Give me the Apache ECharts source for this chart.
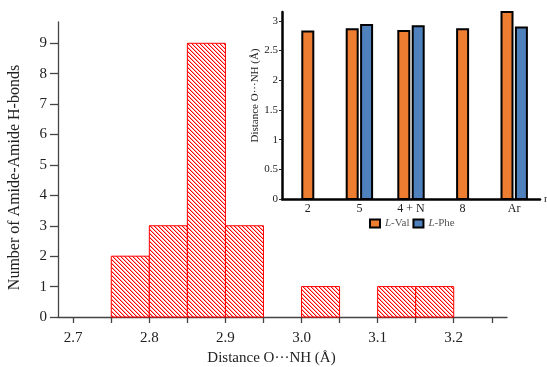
<!DOCTYPE html>
<html>
<head>
<meta charset="utf-8">
<script src="https://cdn.jsdelivr.net/npm/echarts@6/dist/echarts.min.js"></script>
<style>
  html, body { margin: 0; padding: 0; background: #fff; }
  #chart { width: 547px; height: 367px; }
</style>
</head>
<body>
<div id="chart"></div>
<script>
// Histogram of amide-amide hydrogen-bond distances (bins in Å)
const binStarts = [2.75, 2.80, 2.85, 2.90, 3.00, 3.10, 3.15];
const binEnds   = [2.80, 2.85, 2.90, 2.95, 3.05, 3.15, 3.20];
const binCounts = [2, 3, 9, 3, 1, 1, 1];
const histXTicks  = [2.70, 2.75, 2.80, 2.85, 2.90, 2.95, 3.00, 3.05, 3.10, 3.15, 3.20, 3.25];
const histXLabels = [2.7, 2.8, 2.9, 3.0, 3.1, 3.2];
const histYLabels = [0, 1, 2, 3, 4, 5, 6, 7, 8, 9];

// Inset: O···NH distance per compound
const insetCategories = ['2', '5', '4 + N', '8', 'Ar'];
const valDistances = [2.82, 2.86, 2.83, 2.86, 3.15];
const pheDistances = [null, 2.93, 2.91, null, 2.89];
const insetYTicks = [0, 0.5, 1, 1.5, 2, 2.5, 3];

const SERIF = '"Liberation Serif", "Times New Roman", serif';

// diagonal red hatch used to fill the histogram bars
function makeHatch() {
  const c = document.createElement('canvas');
  c.width = 4; c.height = 4;
  const g = c.getContext('2d');
  g.fillStyle = '#ffffff';
  g.fillRect(0, 0, 4, 4);
  for (let i = 0; i < 4; i++) {
    g.fillStyle = '#ff0000';
    g.fillRect(i, i, 1, 1);
    g.fillStyle = 'rgba(255,0,0,0.35)';
    g.fillRect((i + 1) % 4, i, 1, 1);
  }
  return c;
}
const hatch = { image: makeHatch(), repeat: 'repeat' };

function insetSeries(name, values, other, side, color) {
  const data = [];
  values.forEach((v, i) => { if (v != null) data.push([i, v]); });
  return {
    type: 'custom',
    name: name,
    xAxisIndex: 1,
    yAxisIndex: 1,
    itemStyle: { color: color, borderColor: '#000', borderWidth: 1.5 },
    encode: { x: 0, y: 1 },
    data: data,
    renderItem(params, api) {
      const i = api.value(0);
      const v = api.value(1);
      const base = api.coord([i, 0]);
      const top = api.coord([i, v]);
      const w = 11;
      const paired = other[i] != null;
      const cx = paired ? base[0] + side * 7.2 : base[0];
      return {
        type: 'rect',
        shape: { x: cx - w / 2, y: top[1], width: w, height: base[1] - top[1] },
        style: { fill: color, stroke: '#000', lineWidth: 2 }
      };
    }
  };
}

const chart = echarts.init(document.getElementById('chart'), null, { renderer: 'canvas' });

chart.setOption({
  animation: false,
  backgroundColor: '#fff',
  textStyle: { fontFamily: SERIF },
  grid: [
    { left: 58, right: 40, top: 22, bottom: 50, outerBoundsMode: 'none' },
    { left: 282, right: 7, top: 12, bottom: 168, outerBoundsMode: 'none' }
  ],
  legend: {
    left: 369,
    top: 218,
    padding: 0,
    itemWidth: 10,
    itemHeight: 8,
    itemGap: 3,
    icon: 'rect',
    data: ['L-Val', 'L-Phe'],
    formatter: n => '{i|L}' + n.slice(1),
    textStyle: {
      fontFamily: SERIF, fontSize: 11, color: '#555',
      rich: { i: { fontFamily: SERIF, fontSize: 11, color: '#555', fontStyle: 'italic' } }
    }
  },
  xAxis: [
    {
      type: 'value', gridIndex: 0, min: 2.68, max: 3.27,
      axisLine: { show: true, lineStyle: { color: '#444', width: 1.3 } },
      axisTick: { show: true, customValues: histXTicks, length: 6, lineStyle: { color: '#444', width: 1.3 } },
      axisLabel: {
        customValues: histXLabels, formatter: v => v.toFixed(1),
        fontFamily: SERIF, fontSize: 15, color: '#222', margin: 14
      },
      splitLine: { show: false },
      name: 'Distance O···NH (Å)', nameLocation: 'middle', nameGap: 33,
      nameTextStyle: { fontFamily: SERIF, fontSize: 15, color: '#222', padding: [0, 22, 0, 0] }
    },
    {
      type: 'category', gridIndex: 1, data: insetCategories, boundaryGap: true,
      axisLine: { show: true, lineStyle: { color: '#000', width: 2.5 } },
      axisTick: { show: false },
      axisLabel: { fontFamily: SERIF, fontSize: 12, color: '#222', margin: 4 },
      splitLine: { show: false },
      name: 'n', nameLocation: 'end', nameGap: 4,
      nameTextStyle: { fontFamily: SERIF, fontSize: 11, color: '#222' }
    }
  ],
  yAxis: [
    {
      type: 'value', gridIndex: 0, min: 0, max: 9.7,
      axisLine: { show: true, lineStyle: { color: '#444', width: 1.3 } },
      axisTick: { show: true, customValues: histYLabels, length: 8, lineStyle: { color: '#444', width: 1.3 } },
      axisLabel: { customValues: histYLabels, fontFamily: SERIF, fontSize: 15, color: '#222', margin: 11 },
      splitLine: { show: false },
      name: 'Number of Amide-Amide H-bonds', nameLocation: 'middle', nameGap: 35,
      nameTextStyle: { fontFamily: SERIF, fontSize: 16, color: '#222', padding: [0, 16, 0, 0] }
    },
    {
      type: 'value', gridIndex: 1, min: 0, max: 3.15,
      axisLine: { show: true, lineStyle: { color: '#000', width: 2.5 } },
      axisTick: { show: true, customValues: insetYTicks, length: 3, lineStyle: { color: '#222', width: 1 } },
      axisLabel: {
        customValues: insetYTicks, formatter: v => String(v),
        fontFamily: SERIF, fontSize: 11, color: '#222', margin: 4
      },
      splitLine: { show: false },
      name: 'Distance O···NH (Å)', nameLocation: 'middle', nameGap: 21,
      nameTextStyle: { fontFamily: SERIF, fontSize: 11, color: '#222', padding: [0, 0, 0, 20] }
    }
  ],
  series: [
    {
      type: 'custom',
      name: 'histogram',
      xAxisIndex: 0,
      yAxisIndex: 0,
      encode: { x: [0, 1], y: 2 },
      data: binStarts.map((s, i) => [s, binEnds[i], binCounts[i]]),
      renderItem(params, api) {
        const p0 = api.coord([api.value(0), api.value(2)]);
        const p1 = api.coord([api.value(1), 0]);
        return {
          type: 'rect',
          shape: { x: p0[0], y: p0[1], width: p1[0] - p0[0], height: p1[1] - p0[1] },
          style: { fill: hatch, stroke: '#ff0000', lineWidth: 1 }
        };
      }
    },
    insetSeries('L-Val', valDistances, pheDistances, -1, '#ED7D31'),
    insetSeries('L-Phe', pheDistances, valDistances, 1, '#4F81BD')
  ]
});
</script>
</body>
</html>
